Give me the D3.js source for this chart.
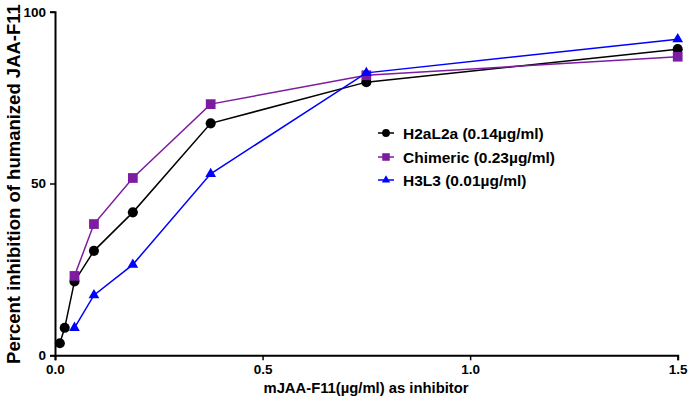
<!DOCTYPE html>
<html><head><meta charset="utf-8">
<script src="https://cdn.jsdelivr.net/npm/d3@7"></script>
<style>body{margin:0;background:#fff}svg{display:block;font-family:"Liberation Sans",Arial,sans-serif;font-weight:bold}</style>
</head><body><svg id="c" width="688" height="400"></svg>
<script>
const xH2 = [0.0117, 0.0234, 0.0469, 0.0938, 0.1875, 0.375, 0.75, 1.5];
const yH2 = [3.5, 8.0, 21.5, 30.4, 41.6, 67.5, 79.5, 89.1];
const xChim = [0.0469, 0.0938, 0.1875, 0.375, 0.75, 1.5];
const yChim = [23.1, 38.2, 51.6, 73.1, 81.5, 86.9];
const xH3 = [0.0469, 0.0938, 0.1875, 0.375, 0.75, 1.5];
const yH3 = [8.0, 17.5, 26.4, 52.8, 82.2, 92.0];
const seriesNames = ["H2aL2a (0.14\u00b5g/ml)", "Chimeric (0.23\u00b5g/ml)", "H3L3 (0.01\u00b5g/ml)"];
const xTicks = [0, 0.5, 1.0, 1.5];
const yTicks = [0, 50, 100];
const xTitle = "mJAA-F11(\u00b5g/ml) as inhibitor";
const yTitle = "Percent inhibition of humanized JAA-F11";

const svg = d3.select("#c");
const x = d3.scaleLinear().domain([0, 1.5]).range([55, 677.7]);
const y = d3.scaleLinear().domain([0, 100]).range([355.3, 11.7]);

const series = [
  {xs: xH2, ys: yH2, color: "#000000", sym: d3.symbolCircle, size: 80},
  {xs: xChim, ys: yChim, color: "#7d1ca0", sym: d3.symbolSquare, size: 95},
  {xs: xH3, ys: yH3, color: "#0000ff", sym: d3.symbolTriangle, size: 50}
];

// axes
const xa = svg.append("g").attr("transform", `translate(0,${y(0)})`)
  .call(d3.axisBottom(x).tickValues(xTicks).tickFormat(d3.format(".1f")).tickSize(5).tickPadding(4));
const ya = svg.append("g").attr("transform", `translate(${x(0)},0)`)
  .call(d3.axisLeft(y).tickValues(yTicks).tickFormat(d3.format("d")).tickSize(5).tickPadding(4));
[xa, ya].forEach(g => {
  g.select(".domain").attr("stroke", "#000").attr("stroke-width", 2);
  g.selectAll(".tick line").attr("stroke", "#000").attr("stroke-width", 1.5);
  g.selectAll("text").attr("fill", "#000").style("font-size", "13.5px").style("font-weight", "bold")
   .style("font-family", '"Liberation Sans",Arial,sans-serif');
});

// lines & markers
const line = d3.line().x(d => x(d[0])).y(d => y(d[1]));
series.forEach(s => {
  const pts = s.xs.map((v, i) => [v, s.ys[i]]);
  svg.append("path").datum(pts).attr("d", line).attr("fill", "none")
    .attr("stroke", s.color).attr("stroke-width", 1.5);
  svg.selectAll(null).data(pts).enter().append("path")
    .attr("d", d3.symbol().type(s.sym).size(s.size))
    .attr("transform", d => `translate(${x(d[0])},${y(d[1])})`)
    .attr("fill", s.color);
});

// legend
const legY = [133, 157, 180];
series.forEach((s, i) => {
  const g = svg.append("g").attr("transform", `translate(386,${legY[i]})`);
  g.append("line").attr("x1", -8).attr("x2", 8).attr("stroke", s.color).attr("stroke-width", 1.5);
  g.append("path").attr("d", d3.symbol().type(s.sym).size(s.size * 0.6)).attr("fill", s.color);
  g.append("text").attr("x", 17).attr("y", 5.5).attr("fill", "#000")
    .style("font-size", "15.5px").text(seriesNames[i]);
});

// titles
svg.append("text").attr("x", 366).attr("y", 393).attr("text-anchor", "middle")
  .style("font-size", "14.8px").text(xTitle);
svg.append("text").attr("transform", "translate(20,184) rotate(-90)").attr("text-anchor", "middle")
  .style("font-size", "18.5px").text(yTitle);
</script></body></html>
